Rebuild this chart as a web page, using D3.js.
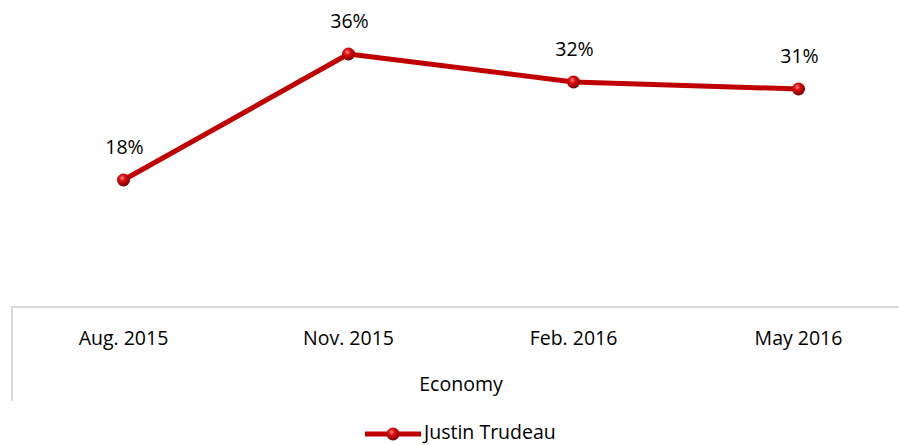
<!DOCTYPE html>
<html>
<head>
<meta charset="utf-8">
<script src="https://cdn.jsdelivr.net/npm/d3@7"></script>
<style>
  body { margin: 0; background: #fff; }
  text { font-family: "Open Sans", "Noto Sans", sans-serif; fill: #000; }
</style>
</head>
<body>
<div id="chart"></div>
<script>
// data
var categories = ["Aug. 2015", "Nov. 2015", "Feb. 2016", "May 2016"];
var values = [18, 36, 32, 31];
var seriesName = "Justin Trudeau";
var groupLabel = "Economy";

var svgWidth = 899;
var svgHeight = 445;
var fontSize = "19.5px";

var margin = { top: 25, left: 11, plotRight: 911, axisY: 306 };

var svg = d3.select("#chart")
    .append("svg")
    .attr("width", svgWidth)
    .attr("height", svgHeight);

var defs = svg.append("defs");
var grad = defs.append("radialGradient")
    .attr("id", "ball")
    .attr("cx", "40%").attr("cy", "35%").attr("r", "65%");
grad.append("stop").attr("offset", "0%").attr("stop-color", "#ff8a8a");
grad.append("stop").attr("offset", "35%").attr("stop-color", "#e01010");
grad.append("stop").attr("offset", "100%").attr("stop-color", "#7a0000");

var xScale = d3.scaleBand()
    .domain(categories)
    .range([margin.left, margin.plotRight]);

var yScale = d3.scaleLinear()
    .domain([0, 40])
    .range([margin.axisY, margin.axisY - 280]);

var cx = d => xScale(d) + xScale.bandwidth() / 2;

// category axis box
svg.append("line")
    .attr("x1", margin.left).attr("x2", svgWidth)
    .attr("y1", margin.axisY + 1).attr("y2", margin.axisY + 1)
    .attr("stroke", "#d9d9d9").attr("stroke-width", 2);

svg.append("line")
    .attr("x1", margin.left + 1).attr("x2", margin.left + 1)
    .attr("y1", margin.axisY + 1).attr("y2", 401)
    .attr("stroke", "#d9d9d9").attr("stroke-width", 2);

svg.append("g").selectAll("text")
    .data(categories)
    .enter()
    .append("text")
    .attr("x", d => cx(d))
    .attr("y", 345)
    .attr("text-anchor", "middle")
    .attr("font-size", fontSize)
    .text(d => d);

svg.append("text")
    .attr("x", 461)
    .attr("y", 391)
    .attr("text-anchor", "middle")
    .attr("font-size", fontSize)
    .text(groupLabel);

// line
var lineGen = d3.line()
    .x((d, i) => cx(categories[i]))
    .y(d => yScale(d));

svg.append("path")
    .datum(values)
    .attr("d", lineGen)
    .attr("fill", "none")
    .attr("stroke", "#c00000")
    .attr("stroke-width", 5)
    .attr("stroke-linejoin", "round");

svg.append("g").selectAll("circle")
    .data(values)
    .enter()
    .append("circle")
    .attr("cx", (d, i) => cx(categories[i]))
    .attr("cy", d => yScale(d))
    .attr("r", 6.5)
    .attr("fill", "url(#ball)");

svg.append("g").selectAll("text")
    .data(values)
    .enter()
    .append("text")
    .attr("x", (d, i) => cx(categories[i]) + 1)
    .attr("y", d => yScale(d) - 26)
    .attr("text-anchor", "middle")
    .attr("font-size", fontSize)
    .text(d => d + "%");

// legend
var legend = svg.append("g").attr("transform", "translate(365, 434)");
legend.append("line")
    .attr("x1", 0).attr("x2", 56)
    .attr("y1", 0).attr("y2", 0)
    .attr("stroke", "#c00000").attr("stroke-width", 5);
legend.append("circle")
    .attr("cx", 28).attr("cy", 0).attr("r", 6.5)
    .attr("fill", "url(#ball)");
legend.append("text")
    .attr("x", 59).attr("y", 5)
    .attr("font-size", fontSize)
    .text(seriesName);
</script>
</body>
</html>
